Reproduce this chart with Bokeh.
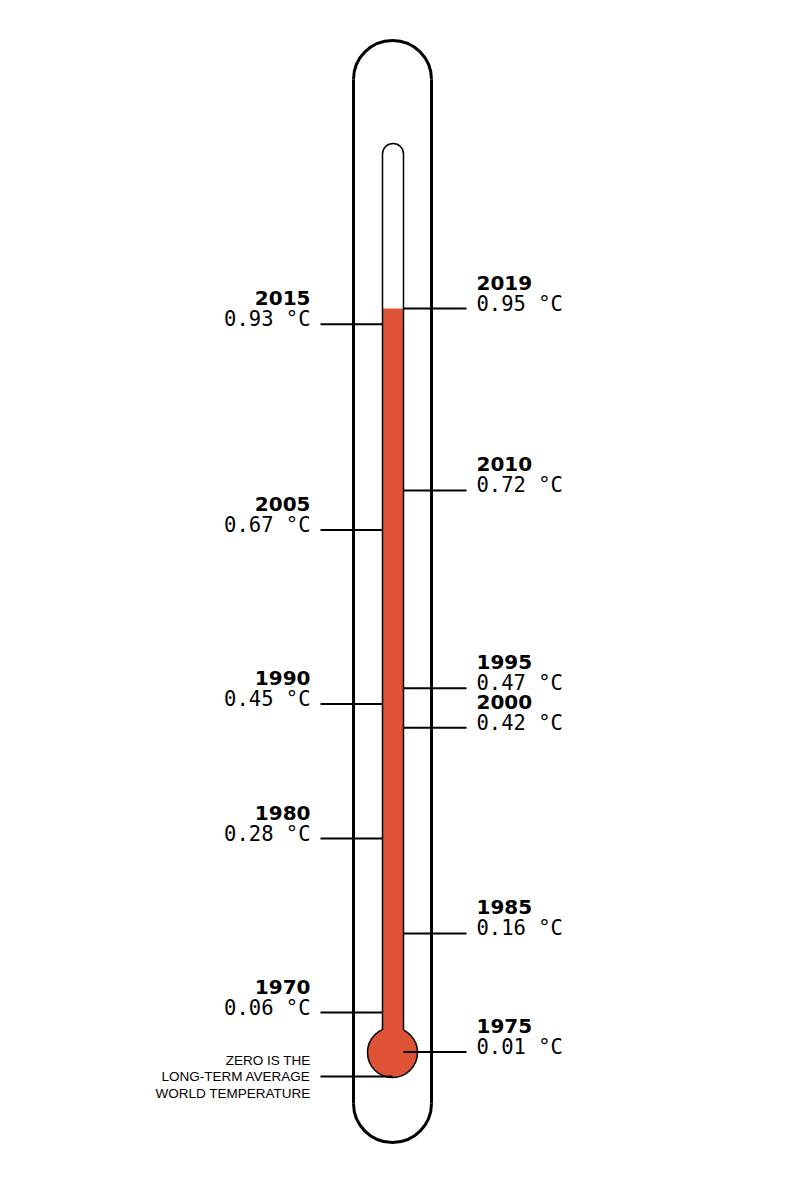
from bokeh.plotting import figure
from bokeh.models import Range1d, ColumnDataSource
from bokeh.core.properties import value
from bokeh.embed import file_html
from bokeh.resources import INLINE

# ---- data ----
left_years = ["2015", "2005", "1990", "1980", "1970"]
left_values = [0.93, 0.67, 0.45, 0.28, 0.06]
right_years = ["2019", "2010", "1995", "2000", "1985", "1975"]
right_values = [0.95, 0.72, 0.47, 0.42, 0.16, 0.01]
current_value = 0.95
zero_note = ["ZERO IS THE", "LONG-TERM AVERAGE", "WORLD TEMPERATURE"]

RED = "#DE5335"
W, H = 786, 1196
PX_PER_DEG = 791.0
ZERO_PX = 1059.5  # pixel row of 0 °C


def py(px):
    """convert a pixel row into the °C scale of the y axis"""
    return (ZERO_PX - px) / PX_PER_DEG


p = figure(width=W, height=H, output_backend="svg", toolbar_location=None,
           x_range=Range1d(0, W), y_range=Range1d(py(H), py(0)),
           min_border=0, outline_line_color=None, background_fill_color="white",
           border_fill_color="white")
p.axis.visible = False
p.grid.visible = False

# ---- outer capsule ----
cx = 392
p.segment(x0=[353, 431], y0=[py(79), py(79)], x1=[353, 431], y1=[py(1103), py(1103)],
          line_color="black", line_width=3)
p.arc(x=[cx, cx], y=[py(79), py(1103)], radius=39, start_angle=[0, 3.14159265],
      end_angle=[3.14159265, 2 * 3.14159265], line_color="black", line_width=3)

# ---- bulb ----
bulb_y = py(1052)
p.circle(x=[cx], y=[bulb_y], radius=25, fill_color=RED, line_color="black", line_width=1.5)

# ---- mercury column ----
p.quad(left=[382], right=[403], bottom=[py(1040)], top=[current_value],
       fill_color=RED, line_color=None)

# ---- inner tube ----
p.segment(x0=[382, 403], y0=[py(153.5), py(153.5)], x1=[382, 403], y1=[py(1029.5), py(1029.5)],
          line_color="black", line_width=1.5)
p.arc(x=[392.5], y=[py(153.5)], radius=10.5, start_angle=0, end_angle=3.14159265,
      line_color="black", line_width=1.5)

# ---- leaders ----
p.segment(x0=[320] * len(left_values), y0=left_values, x1=[382] * len(left_values), y1=left_values,
          line_color="black", line_width=2)
p.segment(x0=[403] * len(right_values), y0=right_values, x1=[466] * len(right_values), y1=right_values,
          line_color="black", line_width=2)
# zero note leader (bottom of bulb)
p.segment(x0=[320], y0=[py(1076)], x1=[392], y1=[py(1076)], line_color="black", line_width=2)

# ---- labels ----
def fmt(v):
    return f"{v:.2f} °C"

ls = ColumnDataSource(dict(y=left_values, yr=left_years, val=[fmt(v) for v in left_values],
                           x=[310] * len(left_values)))
rs = ColumnDataSource(dict(y=right_values, yr=right_years, val=[fmt(v) for v in right_values],
                           x=[476] * len(right_values)))

for src, align in ((ls, "right"), (rs, "left")):
    p.text(x="x", y="y", text="yr", source=src, text_align=align, text_baseline="alphabetic",
           y_offset=-26, text_font=value("DejaVu Sans"), text_font_style="bold",
           text_font_size="20px", text_color="black")
    p.text(x="x", y="y", text="val", source=src, text_align=align, text_baseline="alphabetic",
           y_offset=-5, text_font=value("DejaVu Sans Mono"), text_font_size="20.5px",
           text_color="black")

p.text(x=[310] * 3, y=[py(1060), py(1076), py(1093)], text=zero_note, text_align="right",
       text_baseline="middle", text_font=value("Liberation Sans"), text_font_size="13.5px",
       text_color="black")

open("out.html", "w").write(file_html(p, INLINE))
